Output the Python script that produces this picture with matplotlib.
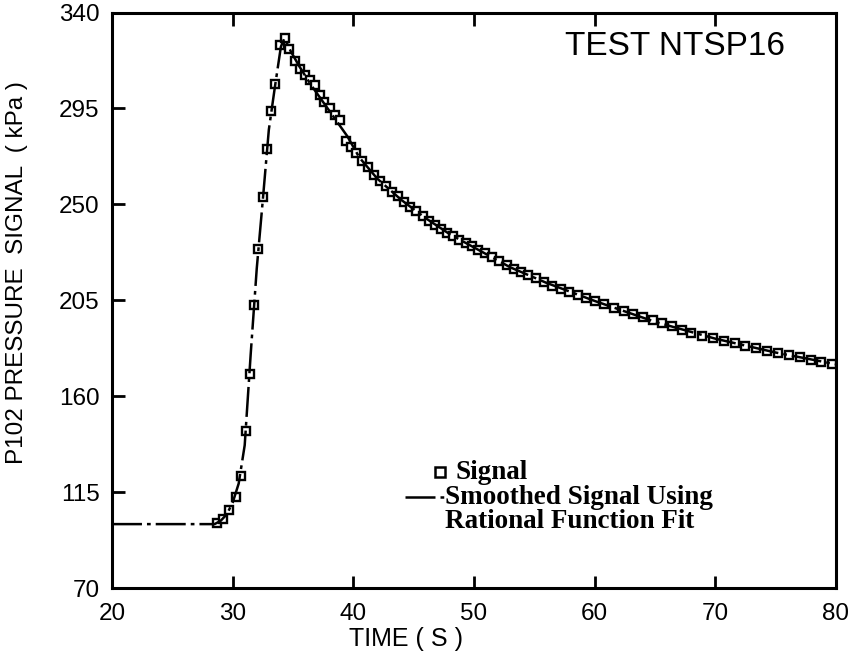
import matplotlib
matplotlib.use('Agg')
import matplotlib.pyplot as plt

# measured P102 pressure samples (s, kPa)
sig_t = [28.7, 29.2, 29.7, 30.25, 30.7, 31.1, 31.4, 31.8, 32.1, 32.55, 32.85,
         33.15, 33.55, 33.9, 34.3, 34.7, 35.2, 35.6, 36.0, 36.4, 36.8, 37.2,
         37.6, 38.05, 38.45, 38.9, 39.4, 39.8, 40.2, 40.7, 41.2, 41.7, 42.2,
         42.7, 43.2, 43.7, 44.2, 44.7, 45.2, 45.8, 46.3, 46.8, 47.3, 47.8,
         48.3, 48.8, 49.3, 49.8, 50.3, 50.9, 51.5, 52.1, 52.7, 53.3, 53.9,
         54.5, 55.1, 55.8, 56.5, 57.2, 57.9, 58.6, 59.3, 60.0, 60.8, 61.6,
         62.4, 63.2, 64.0, 64.8, 65.6, 66.4, 67.2, 68.0, 68.9, 69.8, 70.7,
         71.6, 72.5, 73.4, 74.3, 75.2, 76.1, 77.0, 77.9, 78.8, 79.7]
sig_p = [100.3, 102.5, 106.5, 112.5, 122.5, 143.5, 170.5, 203.0, 229.0, 253.5,
         276.0, 294.0, 306.5, 325.0, 328.0, 323.0, 317.5, 313.6, 310.5, 308.2,
         306.2, 301.5, 298.2, 295.0, 292.0, 289.5, 279.5, 277.0, 274.0, 270.5,
         267.5, 264.0, 261.2, 258.5, 256.0, 253.7, 251.2, 249.0, 246.8, 244.5,
         242.4, 240.4, 238.5, 236.8, 235.2, 233.5, 231.8, 230.3, 228.8, 227.2,
         225.3, 223.5, 221.6, 219.8, 218.2, 216.8, 215.3, 213.6, 211.8, 210.3,
         208.9, 207.5, 206.1, 204.7, 203.1, 201.6, 200.1, 198.6, 197.1, 195.6,
         194.2, 192.9, 191.3, 189.6, 188.4, 187.2, 186.0, 184.8, 183.7, 182.6,
         181.4, 180.3, 179.2, 178.2, 177.1, 176.2, 175.3]

# rational function fit
fit_t = [20.0, 28.5, 29.0, 29.5, 30.0, 30.5, 31.0, 31.5, 32.0, 32.5, 33.0,
         33.5, 34.0, 34.3, 34.8, 35.5, 36.5, 37.5, 38.5, 39.5, 40.5, 42.0,
         44.0, 46.0, 48.0, 50.0, 53.0, 56.0, 60.0, 65.0, 70.0, 75.0, 80.0]
fit_p = [100.0, 100.0, 101.5, 104.5, 110.0, 119.0, 137.0, 180.0, 220.0, 252.0,
         285.0, 305.0, 324.0, 328.0, 322.0, 315.0, 306.0, 298.0, 290.0, 282.0,
         272.0, 262.0, 252.0, 243.5, 236.0, 229.8, 220.5, 213.2, 204.7, 194.9,
         187.0, 180.5, 175.0]

xticks = [20, 30, 40, 50, 60, 70, 80]
yticks = [70, 115, 160, 205, 250, 295, 340]

plt.rcParams['font.family'] = ['Liberation Sans', 'DejaVu Sans']

fig = plt.figure(figsize=(8.56, 6.6), dpi=100)
ax = fig.add_axes([0.1308, 0.109, 0.8458, 0.872])

ax.plot(sig_t, sig_p, linestyle='none', marker='s', markersize=6.3,
        markerfacecolor='white', markeredgecolor='black', markeredgewidth=1.7,
        zorder=2)
ax.plot(fit_t, fit_p, color='black', linewidth=1.8, dashes=(12, 2, 1.5, 2),
        zorder=3)

ax.set_xlim(20, 80)
ax.set_ylim(70, 340)
ax.set_xticks(xticks)
ax.set_yticks(yticks)
ax.tick_params(direction='in', length=9, width=2, labelsize=17.5,
               top=True, right=False)
ax.tick_params(axis='x', pad=11)
ax.tick_params(axis='y', pad=9)
for s in ax.spines.values():
    s.set_linewidth(2.2)

ax.set_xlabel('TIME ( S )', fontsize=18)
ax.xaxis.set_label_coords(0.406, -0.068)
ax.set_ylabel('P102 PRESSURE  SIGNAL  ( kPa )', fontsize=17.5)
ax.yaxis.set_label_coords(-0.116, 0.548)

ax.text(0.93, 0.941, 'TEST NTSP16', transform=ax.transAxes, fontsize=24,
        ha='right', va='center')

# hand-made key
lfont = dict(family='Liberation Serif', fontweight='bold', fontsize=19.5,
             va='center', transform=ax.transAxes)
ax.plot([0.453], [0.201], transform=ax.transAxes, linestyle='none',
        marker='s', markersize=7, markerfacecolor='white',
        markeredgecolor='black', markeredgewidth=1.8)
ax.text(0.474, 0.201, 'Signal', **lfont)
ax.plot([0.405, 0.458], [0.158, 0.158], transform=ax.transAxes,
        color='black', linewidth=1.8, dashes=(12, 2, 1.5, 2))
ax.text(0.460, 0.158, 'Smoothed Signal Using', **lfont)
ax.text(0.460, 0.115, 'Rational Function Fit', **lfont)

fig.savefig('out.png', dpi=100)
